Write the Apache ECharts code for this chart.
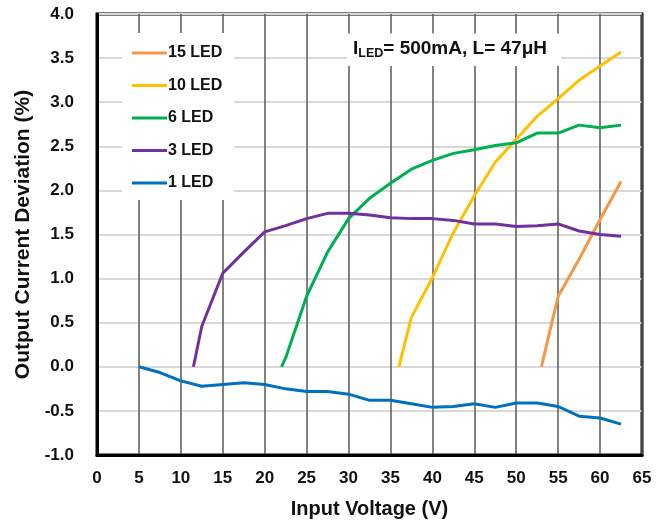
<!DOCTYPE html>
<html>
<head>
<meta charset="utf-8">
<script src="https://cdn.jsdelivr.net/npm/echarts@6/dist/echarts.min.js"></script>
<style>
html,body{margin:0;padding:0;background:#fff;}
#chart{width:667px;height:524px;}
</style>
</head>
<body>
<div id="chart"></div>
<script>
const seriesNames = ['15 LED', '10 LED', '6 LED', '3 LED', '1 LED'];
const xTicks = [0, 5, 10, 15, 20, 25, 30, 35, 40, 45, 50, 55, 60, 65];
const yTicks = [-1.0, -0.5, 0.0, 0.5, 1.0, 1.5, 2.0, 2.5, 3.0, 3.5, 4.0];

const xs15 = [53, 55, 57.5, 60, 62.5];
const led15 = [0, 0.8, 1.22, 1.67, 2.1];

const xs10 = [36, 37.5, 40, 42.5, 45, 47.5, 50, 52.5, 55, 57.5, 60, 62.5];
const led10 = [0, 0.56, 1.01, 1.52, 1.94, 2.32, 2.58, 2.84, 3.04, 3.25, 3.41, 3.57];

const xs6 = [22, 22.5, 25, 27.5, 30, 32.5, 35, 37.5, 40, 42.5, 45, 47.5, 50, 52.5, 55, 57.5, 60, 62.5];
const led6 = [0, 0.1, 0.8, 1.3, 1.68, 1.91, 2.08, 2.24, 2.34, 2.42, 2.46, 2.51, 2.54, 2.65, 2.65, 2.74, 2.71, 2.74];

const xs3 = [11.5, 12.5, 15, 17.5, 20, 22.5, 25, 27.5, 30, 32.5, 35, 37.5, 40, 42.5, 45, 47.5, 50, 52.5, 55, 57.5, 60, 62.5];
const led3 = [0, 0.46, 1.06, 1.3, 1.53, 1.6, 1.68, 1.74, 1.74, 1.72, 1.69, 1.68, 1.68, 1.66, 1.62, 1.62, 1.59, 1.6, 1.62, 1.54, 1.5, 1.48];

const xs1 = [5, 7.5, 10, 12.5, 15, 17.5, 20, 22.5, 25, 27.5, 30, 32.5, 35, 37.5, 40, 42.5, 45, 47.5, 50, 52.5, 55, 57.5, 60, 62.5];
const led1 = [0, -0.065, -0.16, -0.22, -0.2, -0.18, -0.2, -0.25, -0.28, -0.28, -0.31, -0.38, -0.38, -0.42, -0.46, -0.45, -0.42, -0.46, -0.41, -0.41, -0.45, -0.56, -0.58, -0.65];

const colors = ['#F79646', '#FFC000', '#00B050', '#7030A0', '#0070C0'];

function pairs(xs, ys) { return xs.map((x, i) => [x, ys[i]]); }
const allData = [pairs(xs15, led15), pairs(xs10, led10), pairs(xs6, led6), pairs(xs3, led3), pairs(xs1, led1)];

const FONT = '"Liberation Sans", Arial, sans-serif';
const chart = echarts.init(document.getElementById('chart'), null, {renderer: 'canvas'});
chart.setOption({
  animation: false,
  backgroundColor: '#fff',
  textStyle: {fontFamily: FONT},
  grid: {left: 97, right: 25, top: 14, bottom: 66, show: true, borderColor: '#000', borderWidth: 3, backgroundColor: 'transparent'},
  title: {
    left: 347, top: 32,
    backgroundColor: '#fff',
    padding: [6, 14, 6, 6],
    text: '{a|I}{s|LED}{a|= 500mA, L= 47μH}',
    textStyle: {
      rich: {
        a: {fontFamily: FONT, fontSize: 19, fontWeight: 'bold', color: '#111', lineHeight: 22},
        s: {fontFamily: FONT, fontSize: 12.5, fontWeight: 'bold', color: '#111', lineHeight: 12, verticalAlign: 'bottom'}
      }
    }
  },
  legend: {
    orient: 'vertical',
    left: 122, top: 33,
    backgroundColor: '#fff',
    padding: [12, 12, 9, 10],
    icon: 'rect',
    itemWidth: 35, itemHeight: 3, itemGap: 16.5,
    data: seriesNames,
    textStyle: {fontFamily: FONT, fontSize: 16, fontWeight: 'bold', color: '#111', lineHeight: 14, padding: [0, 0, 0, -4]}
  },
  xAxis: {
    type: 'value', min: xTicks[0], max: xTicks[xTicks.length - 1], interval: 5,
    name: 'Input Voltage (V)', nameLocation: 'middle', nameGap: 44,
    nameTextStyle: {fontFamily: FONT, fontSize: 20, fontWeight: 'bold', color: '#111'},
    axisLine: {show: true, onZero: false, lineStyle: {color: '#000', width: 3}},
    axisTick: {show: false},
    axisLabel: {margin: 15, fontFamily: FONT, fontSize: 17, fontWeight: 'bold', color: '#111',
      formatter: v => (xTicks.indexOf(v) >= 0 ? String(v) : '')},
    splitLine: {show: true, lineStyle: {color: '#595959', width: 1.5}}
  },
  yAxis: {
    type: 'value', min: yTicks[0], max: yTicks[yTicks.length - 1], interval: 0.5,
    name: 'Output Current Deviation (%)', nameLocation: 'middle', nameGap: 61,
    nameTextStyle: {fontFamily: FONT, fontSize: 21, fontWeight: 'bold', color: '#111'},
    axisLine: {show: true, onZero: false, lineStyle: {color: '#000', width: 3}},
    axisTick: {show: false},
    axisLabel: {margin: 23, fontFamily: FONT, fontSize: 17, fontWeight: 'bold', color: '#111',
      formatter: v => v.toFixed(1)},
    splitLine: {show: true, lineStyle: {color: '#d9d9d9', width: 2}}
  },
  series: seriesNames.map((n, i) => ({
    name: n, type: 'line', data: allData[i],
    symbol: 'none', smooth: false,
    color: colors[i],
    lineStyle: {color: colors[i], width: 3}
  }))
});
</script>
</body>
</html>
